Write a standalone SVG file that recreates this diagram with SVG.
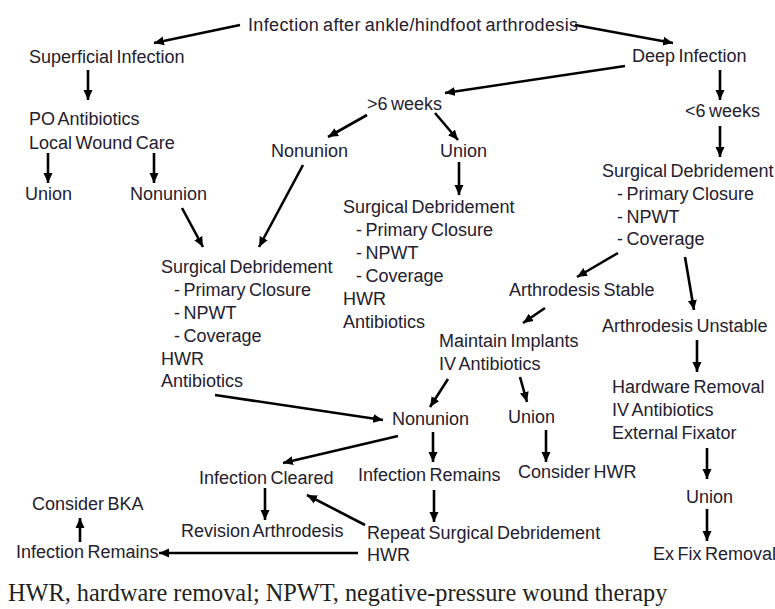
<svg xmlns="http://www.w3.org/2000/svg" width="775" height="609" viewBox="0 0 775 609">
<style>
.t{font-family:"Liberation Sans",Arial,sans-serif;font-size:18px;fill:#24202e;word-spacing:-1.5px}
.cap{font-family:"Liberation Serif","Times New Roman",serif;font-size:24.3px;fill:#231f20}
.c line{stroke:#000;stroke-width:2.6;marker-end:url(#ah)}
</style>
<defs>
<marker id="ah" markerUnits="userSpaceOnUse" markerWidth="11" markerHeight="10" refX="10" refY="5" orient="auto">
<path d="M0,0.5 L10,5 L0,9.5 z" fill="#000"/>
</marker>
</defs>
<rect width="775" height="609" fill="#fff"/>
<g class="c" id="connectors">
<line x1="240" y1="25" x2="154" y2="43"/>
<line x1="575" y1="25" x2="673" y2="43"/>
<line x1="88" y1="70" x2="88" y2="100"/>
<line x1="625" y1="66" x2="445" y2="93"/>
<line x1="720" y1="70" x2="720" y2="100"/>
<line x1="720" y1="126" x2="720" y2="157"/>
<line x1="367" y1="115" x2="328" y2="137"/>
<line x1="435" y1="113" x2="458" y2="140"/>
<line x1="48" y1="153" x2="48" y2="183"/>
<line x1="154" y1="153" x2="154" y2="183"/>
<line x1="459" y1="162" x2="459" y2="195"/>
<line x1="182" y1="208" x2="203" y2="247"/>
<line x1="303" y1="165" x2="259" y2="247"/>
<line x1="618" y1="253" x2="577" y2="277"/>
<line x1="685" y1="257" x2="694" y2="310"/>
<line x1="545" y1="308" x2="523" y2="323"/>
<line x1="697" y1="340" x2="697" y2="372"/>
<line x1="448" y1="379" x2="430" y2="407"/>
<line x1="520" y1="377" x2="527" y2="402"/>
<line x1="215" y1="395" x2="383" y2="420"/>
<line x1="398" y1="436" x2="283" y2="463"/>
<line x1="433" y1="432" x2="433" y2="462"/>
<line x1="546" y1="430" x2="546" y2="462"/>
<line x1="707" y1="448" x2="707" y2="479"/>
<line x1="707" y1="509" x2="707" y2="541"/>
<line x1="265" y1="488" x2="265" y2="520"/>
<line x1="434" y1="490" x2="434" y2="522"/>
<line x1="365" y1="525" x2="307" y2="495"/>
<line x1="358" y1="553" x2="159" y2="553"/>
<line x1="80" y1="542" x2="80" y2="518"/>
</g>
<g id="n_root"><text class="t" x="248" y="31" textLength="330">Infection after ankle/hindfoot arthrodesis</text></g>
<g id="n_superficial"><text class="t" x="29" y="63">Superficial Infection</text></g>
<g id="n_deep"><text class="t" x="632" y="62">Deep Infection</text></g>
<g id="n_po"><text class="t" x="29" y="125">PO Antibiotics</text><text class="t" x="29" y="149">Local Wound Care</text></g>
<g id="n_gt6"><text class="t" x="367" y="110">&gt;6 weeks</text></g>
<g id="n_lt6"><text class="t" x="685" y="117">&lt;6 weeks</text></g>
<g id="n_union1"><text class="t" x="25" y="200">Union</text></g>
<g id="n_nonunion1"><text class="t" x="130" y="200">Nonunion</text></g>
<g id="n_nonunion2"><text class="t" x="271" y="157">Nonunion</text></g>
<g id="n_union2"><text class="t" x="440" y="157">Union</text></g>
<g id="n_sd_right"><text class="t" x="602" y="177">Surgical Debridement</text><text class="t" x="617" y="200">- Primary Closure</text><text class="t" x="617" y="223">- NPWT</text><text class="t" x="617" y="245">- Coverage</text></g>
<g id="n_sd_mid"><text class="t" x="343" y="213">Surgical Debridement</text><text class="t" x="356" y="236">- Primary Closure</text><text class="t" x="356" y="259">- NPWT</text><text class="t" x="356" y="282">- Coverage</text><text class="t" x="343" y="305">HWR</text><text class="t" x="343" y="328">Antibiotics</text></g>
<g id="n_sd_left"><text class="t" x="161" y="273">Surgical Debridement</text><text class="t" x="174" y="296">- Primary Closure</text><text class="t" x="174" y="319">- NPWT</text><text class="t" x="174" y="342">- Coverage</text><text class="t" x="161" y="365">HWR</text><text class="t" x="161" y="387">Antibiotics</text></g>
<g id="n_stable"><text class="t" x="509" y="296">Arthrodesis Stable</text></g>
<g id="n_unstable"><text class="t" x="602" y="332">Arthrodesis Unstable</text></g>
<g id="n_maintain"><text class="t" x="439" y="347">Maintain Implants</text><text class="t" x="439" y="370">IV Antibiotics</text></g>
<g id="n_hwremoval"><text class="t" x="612" y="393">Hardware Removal</text><text class="t" x="612" y="416">IV Antibiotics</text><text class="t" x="612" y="439">External Fixator</text></g>
<g id="n_nonunion3"><text class="t" x="392" y="425">Nonunion</text></g>
<g id="n_union3"><text class="t" x="508" y="423">Union</text></g>
<g id="n_cleared"><text class="t" x="199" y="484">Infection Cleared</text></g>
<g id="n_remains"><text class="t" x="358" y="481">Infection Remains</text></g>
<g id="n_considerhwr"><text class="t" x="518" y="478">Consider HWR</text></g>
<g id="n_union4"><text class="t" x="686" y="503">Union</text></g>
<g id="n_bka"><text class="t" x="32" y="510">Consider BKA</text></g>
<g id="n_revision"><text class="t" x="181" y="537">Revision Arthrodesis</text></g>
<g id="n_repeat"><text class="t" x="367" y="539">Repeat Surgical Debridement</text><text class="t" x="367" y="561">HWR</text></g>
<g id="n_remains2"><text class="t" x="16" y="558">Infection Remains</text></g>
<g id="n_exfix"><text class="t" x="653" y="560">Ex Fix Removal</text></g>
<text class="cap" x="8" y="601">HWR, hardware removal; NPWT, negative-pressure wound therapy</text>
</svg>
